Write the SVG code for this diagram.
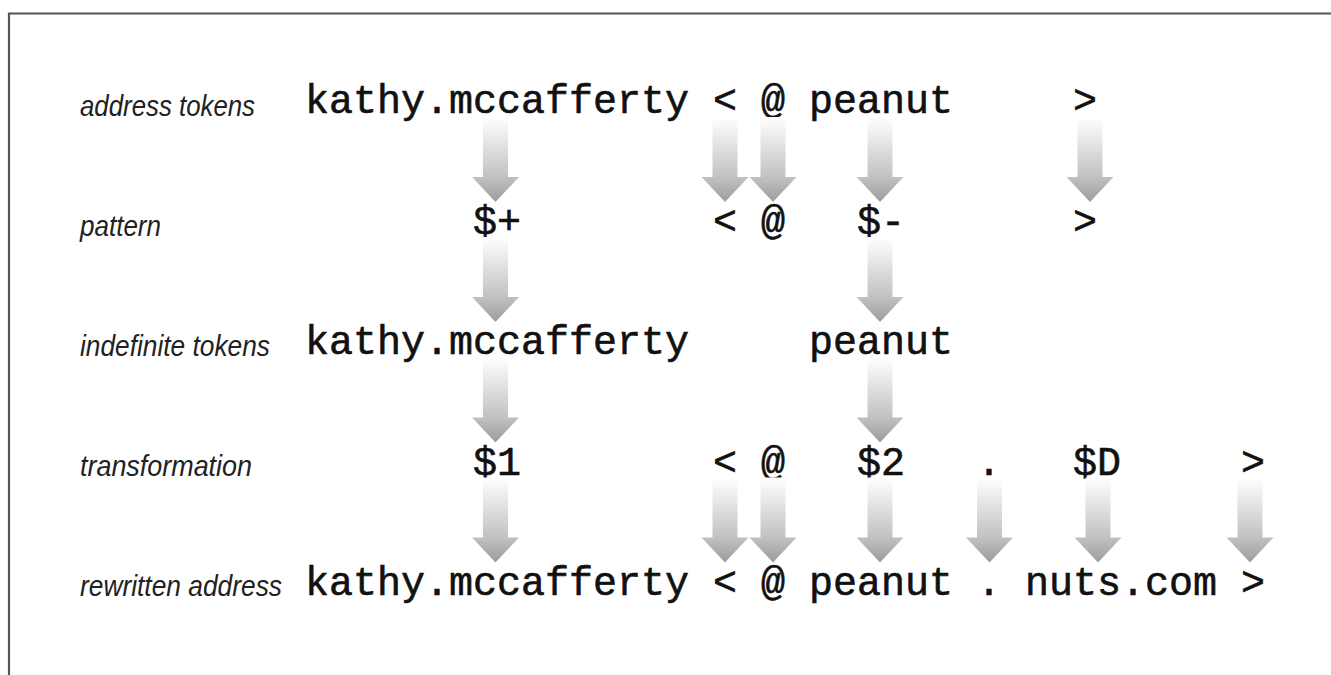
<svg xmlns="http://www.w3.org/2000/svg" xmlns:xlink="http://www.w3.org/1999/xlink" width="1331" height="675" viewBox="0 0 1331 675">
<style>
.lbl{font-family:"Liberation Sans",Arial,sans-serif;font-style:italic;font-size:30px;fill:#222}
.tok{font-family:"Liberation Mono","Courier New",monospace;font-size:40px;fill:#111;stroke:#111;stroke-width:0.6}
.frame{fill:none;stroke:#555;stroke-width:2.2}
</style>
<defs>
<linearGradient id="ag" x1="0" y1="0" x2="0" y2="1">
<stop offset="0" stop-color="#ffffff"/>
<stop offset="0.7" stop-color="#c2c2c2"/>
<stop offset="1" stop-color="#9c9c9c"/>
</linearGradient>
<path id="arr" d="M-12.5,0 H12.5 V60 H23.5 L0,85 L-23.5,60 H-12.5 Z" fill="url(#ag)"/>
</defs>
<rect width="1331" height="675" fill="#fff"/>
<path class="frame" d="M9,677 V13.5 H1333"/>

<g id="labels">
<text class="lbl" x="80" y="116" textLength="175" lengthAdjust="spacingAndGlyphs">address tokens</text>
<text class="lbl" x="80" y="236" textLength="81" lengthAdjust="spacingAndGlyphs">pattern</text>
<text class="lbl" x="80" y="356" textLength="190" lengthAdjust="spacingAndGlyphs">indefinite tokens</text>
<text class="lbl" x="80" y="476" textLength="172" lengthAdjust="spacingAndGlyphs">transformation</text>
<text class="lbl" x="80" y="596" textLength="202" lengthAdjust="spacingAndGlyphs">rewritten address</text>
</g>

<g id="row-address-tokens">
<text class="tok" x="305" y="113">kathy.mccafferty</text>
<text class="tok" x="713" y="113">&lt;</text>
<text class="tok" x="761" y="113">@</text>
<text class="tok" x="809" y="113">peanut</text>
<text class="tok" x="1073" y="113">&gt;</text>
</g>
<g id="row-pattern">
<text class="tok" x="473" y="233.5">$+</text>
<text class="tok" x="713" y="233.5">&lt;</text>
<text class="tok" x="761" y="233.5">@</text>
<text class="tok" x="857" y="233.5">$-</text>
<text class="tok" x="1073" y="233.5">&gt;</text>
</g>
<g id="row-indefinite-tokens">
<text class="tok" x="305" y="354">kathy.mccafferty</text>
<text class="tok" x="809" y="354">peanut</text>
</g>
<g id="row-transformation">
<text class="tok" x="473" y="474.5">$1</text>
<text class="tok" x="713" y="474.5">&lt;</text>
<text class="tok" x="761" y="474.5">@</text>
<text class="tok" x="857" y="474.5">$2</text>
<text class="tok" x="977" y="474.5">.</text>
<text class="tok" x="1073" y="474.5">$D</text>
<text class="tok" x="1241" y="474.5">&gt;</text>
</g>
<g id="row-rewritten-address">
<text class="tok" x="305" y="595">kathy.mccafferty</text>
<text class="tok" x="713" y="595">&lt;</text>
<text class="tok" x="761" y="595">@</text>
<text class="tok" x="809" y="595">peanut</text>
<text class="tok" x="977" y="595">.</text>
<text class="tok" x="1025" y="595">nuts.com</text>
<text class="tok" x="1241" y="595">&gt;</text>
</g>

<g id="connectors">
<use xlink:href="#arr" x="495.5" y="117"/>
<use xlink:href="#arr" x="725" y="117"/>
<use xlink:href="#arr" x="773" y="117"/>
<use xlink:href="#arr" x="880" y="117"/>
<use xlink:href="#arr" x="1090" y="117"/>

<use xlink:href="#arr" x="495.5" y="237"/>
<use xlink:href="#arr" x="880" y="237"/>

<use xlink:href="#arr" x="495.5" y="357.5"/>
<use xlink:href="#arr" x="880" y="357.5"/>

<use xlink:href="#arr" x="495.5" y="477.5"/>
<use xlink:href="#arr" x="725" y="477.5"/>
<use xlink:href="#arr" x="773" y="477.5"/>
<use xlink:href="#arr" x="880" y="477.5"/>
<use xlink:href="#arr" x="989.5" y="477.5"/>
<use xlink:href="#arr" x="1098" y="477.5"/>
<use xlink:href="#arr" x="1250" y="477.5"/>
</g>
</svg>
